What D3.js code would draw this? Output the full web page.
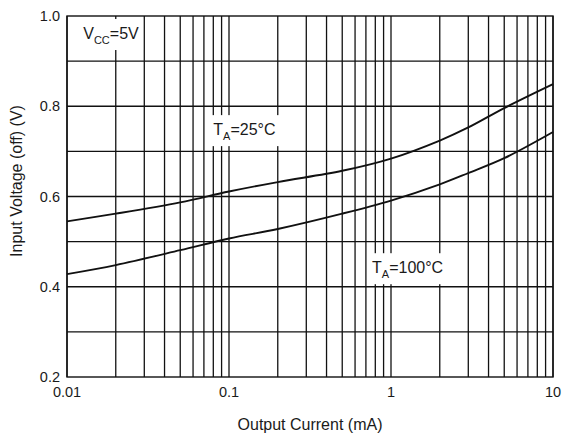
<!DOCTYPE html>
<html>
<head>
<meta charset="UTF-8">
<script src="https://d3js.org/d3.v7.min.js"></script>
<style>
  body { margin: 0; background: #fff; }
  text { font-family: "Liberation Sans", Arial, sans-serif; fill: #1a1a1a; }
  .tick-lbl { font-size: 14.5px; }
  .ax-title { font-size: 16px; }
  .note { font-size: 16px; }
</style>
</head>
<body>
<svg id="svg" width="562" height="437"></svg>
<script>
// output current (mA) and input voltage (off)
var currents = [0.01, 0.02, 0.05, 0.1, 0.2, 0.5, 1, 2, 3, 5, 10];
var v25 = [0.545, 0.562, 0.587, 0.611, 0.632, 0.657, 0.684, 0.724, 0.753, 0.796, 0.849];
var v100 = [0.428, 0.448, 0.481, 0.507, 0.528, 0.562, 0.591, 0.627, 0.652, 0.685, 0.743];

var xTicks = [0.01, 0.1, 1, 10];
var xTickLabels = ["0.01", "0.1", "1", "10"];
var yTicks = [0.2, 0.4, 0.6, 0.8, 1.0];
var yGrid = [0.3, 0.4, 0.5, 0.6, 0.7, 0.8, 0.9];

// annotations: main letter, subscript, rest, anchor (data units)
var notes = [
  { main: "V", sub: "CC", rest: "=5V", x: 0.0126, y: 0.949 },
  { main: "T", sub: "A", rest: "=25°C", x: 0.08, y: 0.736 },
  { main: "T", sub: "A", rest: "=100°C", x: 0.764, y: 0.43 }
];

var svg = d3.select("#svg");
var margin = { left: 67, right: 9, top: 16, bottom: 60 };
var W = 562 - margin.left - margin.right,
    H = 437 - margin.top - margin.bottom;
var g = svg.append("g").attr("transform", "translate(" + margin.left + "," + margin.top + ")");

var x = d3.scaleLog().domain([0.01, 10]).range([0, W]);
var y = d3.scaleLinear().domain([0.2, 1.0]).range([H, 0]);

// vertical grid: every 1..9 in each decade
var vGrid = [];
[0.01, 0.1, 1].forEach(function (d) {
  for (var k = 1; k <= 9; k++) vGrid.push(d * k);
});
vGrid.push(10);

g.selectAll("line.vg").data(vGrid).enter().append("line")
  .attr("x1", d => x(d)).attr("x2", d => x(d))
  .attr("y1", 0).attr("y2", H)
  .attr("stroke", "#111").attr("stroke-width", 1.3);

g.selectAll("line.hg").data(yGrid).enter().append("line")
  .attr("x1", 0).attr("x2", W)
  .attr("y1", d => y(d)).attr("y2", d => y(d))
  .attr("stroke", "#111").attr("stroke-width", 1.3);

// frame
g.append("rect").attr("x", 0).attr("y", 0).attr("width", W).attr("height", H)
  .attr("fill", "none").attr("stroke", "#111").attr("stroke-width", 1.4);

// curves
var line = d3.line().x(d => x(d[0])).y(d => y(d[1])).curve(d3.curveCatmullRom.alpha(0.5));
[v25, v100].forEach(function (vals) {
  g.append("path")
    .datum(currents.map((c, i) => [c, vals[i]]))
    .attr("d", line)
    .attr("fill", "none")
    .attr("stroke", "#111")
    .attr("stroke-width", 1.9);
});

// labels with white boxes
notes.forEach(function (n) {
  var ng = g.append("g");
  var box = ng.append("rect").attr("fill", "#fff");
  var t = ng.append("text").attr("class", "note")
    .attr("x", x(n.x)).attr("y", y(n.y));
  t.append("tspan").text(n.main);
  t.append("tspan").attr("font-size", "11px").attr("dy", 5).text(n.sub);
  t.append("tspan").attr("dy", -5).text(n.rest);
  var bb = t.node().getBBox();
  box.attr("x", bb.x - 5).attr("y", bb.y - 6)
    .attr("width", bb.width + 9).attr("height", bb.height + 10);
});

// tick labels
g.selectAll("text.xt").data(xTicks).enter().append("text")
  .attr("class", "tick-lbl")
  .attr("x", d => x(d)).attr("y", H + 20)
  .attr("text-anchor", "middle")
  .text((d, i) => xTickLabels[i]);

g.selectAll("text.yt").data(yTicks).enter().append("text")
  .attr("class", "tick-lbl")
  .attr("x", -7).attr("y", d => y(d))
  .attr("text-anchor", "end")
  .attr("dominant-baseline", "central")
  .text(d => d3.format(".1f")(d));

// axis titles
svg.append("text").attr("class", "ax-title")
  .attr("x", margin.left + W / 2).attr("y", 430)
  .attr("text-anchor", "middle")
  .text("Output Current (mA)");

svg.append("text").attr("class", "ax-title")
  .attr("transform", "translate(22,181) rotate(-90)")
  .attr("text-anchor", "middle")
  .text("Input Voltage (off) (V)");
</script>
</body>
</html>
